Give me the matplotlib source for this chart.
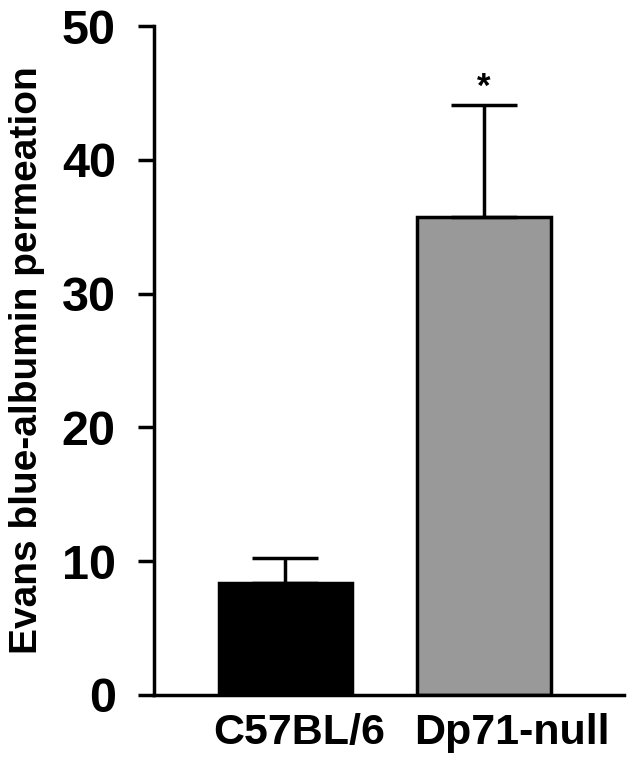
import matplotlib
matplotlib.use("Agg")
import matplotlib.pyplot as plt

# values
groups = ["C57BL/6", "Dp71-null"]
means = [8.35, 35.7]
sem = [1.9, 8.4]
bar_colors = ["black", "#999999"]
yticks = [0, 10, 20, 30, 40, 50]

plt.rcParams["font.family"] = ["Liberation Sans", "DejaVu Sans"]
plt.rcParams["font.weight"] = "bold"

fig = plt.figure(figsize=(6.36, 7.68), dpi=100)
ax = fig.add_axes([154 / 636, 1 - 695 / 768, (624 - 154) / 636, (695 - 26) / 768])

x = list(range(len(groups)))
ax.bar(x, means, width=0.67, color=bar_colors, edgecolor="black", linewidth=2.5)
ax.errorbar(x, means, yerr=[[0, 0], sem], fmt="none", ecolor="black",
            elinewidth=2.5, capsize=24, capthick=2.5)

# significance marker
ax.text(x[1], means[1] + sem[1] + 0.6, "*", ha="center", va="baseline",
        fontsize=25, fontweight="bold")

ax.set_xlim(-0.662, 1.705)
ax.set_ylim(0, 50)
ax.set_yticks(yticks)
# group labels sit a bit right of the bar centres in the original
label_shift = [0.07, 0.14]
ax.set_xticks([xi + d for xi, d in zip(x, label_shift)])
ax.set_xticklabels(groups, fontsize=31, fontweight="bold")
ax.set_ylabel("Evans blue-albumin permeation", fontsize=28, fontweight="bold",
              labelpad=12)

for s in ["top", "right"]:
    ax.spines[s].set_visible(False)
for s in ["left", "bottom"]:
    ax.spines[s].set_linewidth(2.5)

ax.tick_params(axis="y", length=11.5, width=2.5, pad=16, labelsize=35)
ax.tick_params(axis="x", length=0, pad=13)
for lbl in ax.get_yticklabels():
    lbl.set_fontweight("bold")

fig.savefig("out.png", dpi=100)
